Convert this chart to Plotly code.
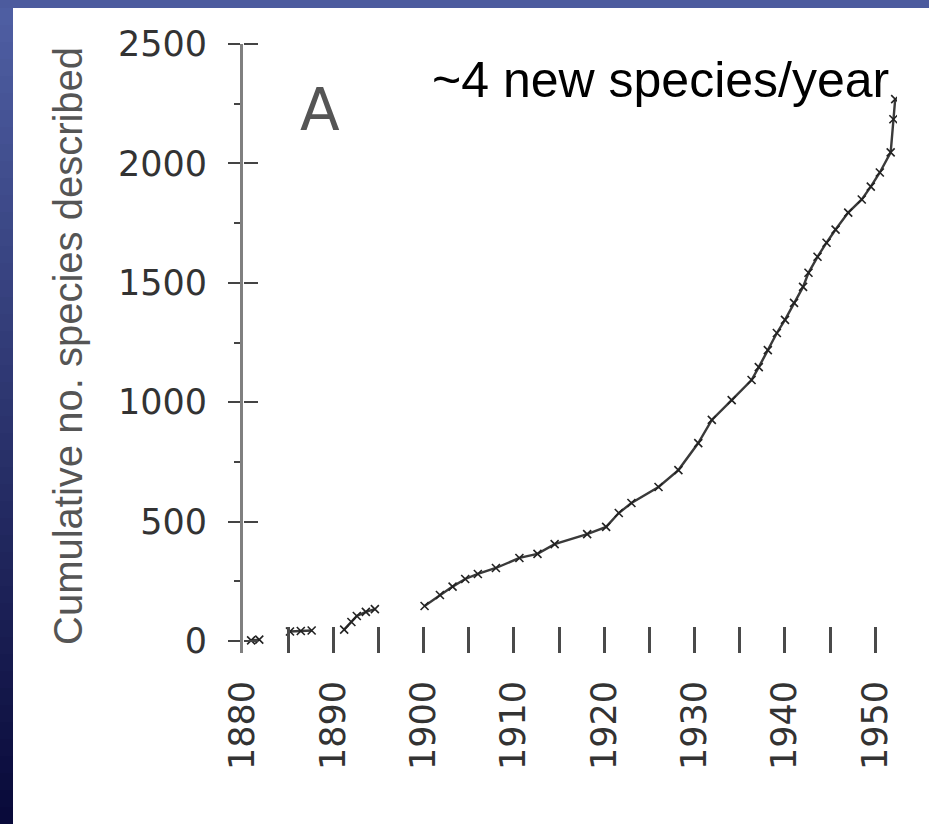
import plotly.graph_objects as go

# Cumulative species count by year (None marks breaks between early clusters)
years = [1880.9, 1881.8, None,
         1885.2, 1886.4, 1887.6, None,
         1891.2, 1892.0, 1892.6, 1893.6, 1894.6, None,
         1900.1, 1901.8, 1903.2, 1904.6, 1906.0, 1908.0, 1910.6, 1912.6, 1914.5,
         1918.1, 1920.2, 1921.6, 1923.0, 1926.0, 1928.2, 1930.4, 1931.9, 1934.1,
         1936.3, 1937.1, 1938.1, 1939.1, 1940.0, 1941.0, 1942.0, 1942.6, 1943.6,
         1944.6, 1945.6, 1947.0, 1948.5, 1949.5, 1950.5, 1951.7, 1952.0, 1952.2]
species = [3, 6, None,
           40, 42, 44, None,
           48, 80, 105, 122, 134, None,
           147, 193, 228, 260, 281, 306, 348, 365, 406,
           448, 478, 536, 578, 645, 716, 829, 926, 1009,
           1093, 1147, 1218, 1290, 1345, 1416, 1483, 1542, 1609,
           1668, 1723, 1794, 1849, 1903, 1962, 2046, 2185, 2269]

x_tick_years = [1880, 1890, 1900, 1910, 1920, 1930, 1940, 1950]
y_tick_values = [0, 500, 1000, 1500, 2000, 2500]

x_range = [1880, 1952.4]
y_range = [-50, 2500]

FIG_W, FIG_H = 929, 824
M_L, M_R, M_T, M_B = 243, 32, 44, 171
PLOT_W = FIG_W - M_L - M_R
PLOT_H = FIG_H - M_T - M_B


def px_x(px):
    return (px - M_L) / PLOT_W


def px_y(py):
    return (FIG_H - M_B - py) / PLOT_H


tick_font = dict(family="DejaVu Sans", size=35, color="#333333")

fig = go.Figure()
fig.add_trace(go.Scatter(
    x=years, y=species, mode="lines+markers", connectgaps=False,
    line=dict(color="#3a3a3a", width=2.4),
    marker=dict(symbol="x-thin", size=8, line=dict(width=1.6, color="#222222")),
    showlegend=False, hoverinfo="skip",
))
# empty trace so the second tick axis is laid out
fig.add_trace(go.Scatter(x=[None], y=[None], yaxis="y2", showlegend=False,
                         hoverinfo="skip"))

# slide frame: blue band at the top and a dark gradient strip on the left
shapes = [dict(type="rect", xref="paper", yref="paper",
               x0=px_x(0), x1=px_x(FIG_W), y0=px_y(8), y1=px_y(0),
               fillcolor="#4c5b9e", line=dict(width=0), layer="below")]
top_rgb = (0x4e, 0x5e, 0xa2)
bot_rgb = (0x09, 0x0a, 0x3a)
n_bands = 48
for i in range(n_bands):
    t = i / (n_bands - 1)
    c = tuple(round(a + (b - a) * t) for a, b in zip(top_rgb, bot_rgb))
    y_top = 8 + (FIG_H - 8) * i / n_bands
    y_bot = 8 + (FIG_H - 8) * (i + 1) / n_bands + 1
    shapes.append(dict(type="rect", xref="paper", yref="paper",
                       x0=px_x(0), x1=px_x(13), y0=px_y(y_bot), y1=px_y(y_top),
                       fillcolor="rgb(%d,%d,%d)" % c, line=dict(width=0), layer="below"))
shapes.append(dict(type="rect", xref="paper", yref="paper",
                   x0=px_x(0), x1=px_x(13), y0=px_y(8), y1=px_y(0),
                   fillcolor="#4c5b9e", line=dict(width=0), layer="below"))

annotations = [
    dict(text="~4 new species/year", xref="paper", yref="paper",
         x=px_x(660), y=px_y(80), xanchor="center", yanchor="middle",
         showarrow=False,
         font=dict(family="Liberation Sans", size=50, color="#000000")),
    dict(text="A", xref="paper", yref="paper", x=px_x(320), y=px_y(110),
         xanchor="center", yanchor="middle", showarrow=False,
         font=dict(family="DejaVu Sans", size=58, color="#555555")),
    dict(text="Cumulative no. species described", xref="paper", yref="paper",
         x=px_x(68), y=px_y(346), xanchor="center", yanchor="middle",
         textangle=-90, showarrow=False,
         font=dict(family="Liberation Sans", size=40, color="#555555")),
]

fig.update_layout(
    width=FIG_W, height=FIG_H,
    margin=dict(l=M_L, r=M_R, t=M_T, b=M_B),
    paper_bgcolor="#ffffff", plot_bgcolor="#ffffff",
    shapes=shapes, annotations=annotations,
    xaxis=dict(range=x_range, tickvals=x_tick_years,
               ticktext=[str(v) for v in x_tick_years], tickangle=-90,
               ticks="inside", ticklen=26, tickwidth=3, tickcolor="#4a4a4a",
               minor=dict(dtick=5, tick0=1880, ticks="inside", ticklen=26,
                          tickwidth=3, tickcolor="#4a4a4a"),
               showline=False, showgrid=False, zeroline=False,
               tickfont=tick_font, ticklabelstandoff=20),
    yaxis=dict(range=y_range, tickvals=y_tick_values,
               ticks="outside", ticklen=12, tickwidth=2, tickcolor="#444444",
               minor=dict(dtick=250, tick0=0, ticks="outside", ticklen=6,
                          tickwidth=2, tickcolor="#444444"),
               showline=True, linecolor="#808080", linewidth=3,
               showgrid=False, zeroline=False,
               tickfont=tick_font, ticklabelstandoff=14),
    # right-hand halves of the major ticks, sitting on the left axis line
    yaxis2=dict(range=y_range, overlaying="y", anchor="free", position=0,
                side="right", tickvals=y_tick_values, ticks="outside",
                ticklen=14, tickwidth=2, tickcolor="#444444",
                showticklabels=False, showline=False,
                showgrid=False, zeroline=False),
)

fig.write_html("out.html", config=dict(displayModeBar=False))
